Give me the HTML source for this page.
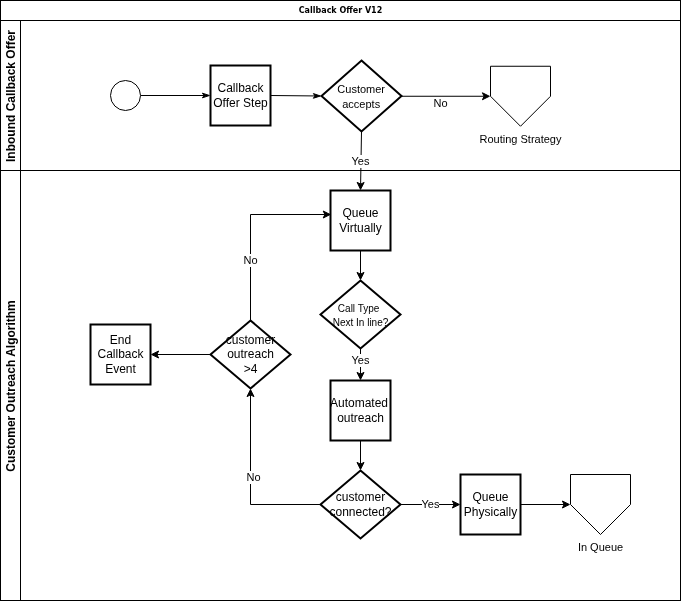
<!DOCTYPE html>
<html><head><meta charset="utf-8"><title>Callback Offer V12</title>
<style>
html,body{margin:0;padding:0;background:#fff;}
#d{position:relative;width:681px;height:601px;overflow:hidden;font-family:"Liberation Sans",Helvetica,Arial,sans-serif;color:#000;}
svg{position:absolute;left:0;top:0;}
#lb{position:absolute;left:0;top:0;width:681px;height:601px;will-change:transform;}
.l{position:absolute;width:0;height:0;display:flex;align-items:center;justify-content:center;}
.i{font-size:12px;line-height:1.2;text-align:center;white-space:nowrap;flex:none;}
.t{position:absolute;font-weight:bold;white-space:nowrap;}
.v{position:absolute;width:0;height:0;display:flex;align-items:center;justify-content:center;transform:rotate(-90deg);}
.v .i{font-weight:bold;}
</style></head><body>
<div id="d">
<svg width="681" height="601" viewBox="0 0 681 601"><g transform="translate(0.5,0.5)">
<rect x="0" y="0" width="680" height="600" fill="#fff" stroke="#000"/>
<path d="M 0 20 L 680 20" fill="none" stroke="#000"/>
<path d="M 0 170 L 680 170" fill="none" stroke="#000"/>
<path d="M 20 20 L 20 600" fill="none" stroke="#000"/>
<path d="M 140.00 95.00 L 203.63 95.00" fill="none" stroke="#000" stroke-miterlimit="10"/>
<path d="M 208.88 95.00 L 201.88 97.33 L 203.63 95.00 L 201.88 92.67 Z" fill="#000" stroke="#000" stroke-miterlimit="10"/>
<path d="M 270.00 95.00 L 314.63 95.44" fill="none" stroke="#000" stroke-miterlimit="10"/>
<path d="M 319.88 95.49 L 312.86 97.75 L 314.63 95.44 L 312.90 93.09 Z" fill="#000" stroke="#000" stroke-miterlimit="10"/>
<path d="M 401.00 95.75 L 483.63 95.75" fill="none" stroke="#000" stroke-miterlimit="10"/>
<path d="M 488.88 95.75 L 481.88 99.25 L 483.63 95.75 L 481.88 92.25 Z" fill="#000" stroke="#000" stroke-miterlimit="10"/>
<path d="M 361.00 131.00 L 360.11 183.63" fill="none" stroke="#000" stroke-miterlimit="10"/>
<path d="M 360.02 188.88 L 356.64 181.82 L 360.11 183.63 L 363.64 181.94 Z" fill="#000" stroke="#000" stroke-miterlimit="10"/>
<path d="M 360.00 250.00 L 360.00 273.63" fill="none" stroke="#000" stroke-miterlimit="10"/>
<path d="M 360.00 278.88 L 356.50 271.88 L 360.00 273.63 L 363.50 271.88 Z" fill="#000" stroke="#000" stroke-miterlimit="10"/>
<path d="M 360.00 348.00 L 360.00 373.63" fill="none" stroke="#000" stroke-miterlimit="10"/>
<path d="M 360.00 378.88 L 356.50 371.88 L 360.00 373.63 L 363.50 371.88 Z" fill="#000" stroke="#000" stroke-miterlimit="10"/>
<path d="M 360.00 440.00 L 360.00 463.63" fill="none" stroke="#000" stroke-miterlimit="10"/>
<path d="M 360.00 468.88 L 356.50 461.88 L 360.00 463.63 L 363.50 461.88 Z" fill="#000" stroke="#000" stroke-miterlimit="10"/>
<path d="M 400.00 504.00 L 453.63 504.00" fill="none" stroke="#000" stroke-miterlimit="10"/>
<path d="M 458.88 504.00 L 451.88 507.50 L 453.63 504.00 L 451.88 500.50 Z" fill="#000" stroke="#000" stroke-miterlimit="10"/>
<path d="M 520.00 504.00 L 563.63 504.00" fill="none" stroke="#000" stroke-miterlimit="10"/>
<path d="M 568.88 504.00 L 561.88 507.50 L 563.63 504.00 L 561.88 500.50 Z" fill="#000" stroke="#000" stroke-miterlimit="10"/>
<path d="M 320.00 504.00 L 250.00 504.00 L 250.00 394.37" fill="none" stroke="#000" stroke-miterlimit="10"/>
<path d="M 250.00 389.12 L 253.50 396.12 L 250.00 394.37 L 246.50 396.12 Z" fill="#000" stroke="#000" stroke-miterlimit="10"/>
<path d="M 250.00 320.00 L 250.00 214.00 L 324.43 214.00" fill="none" stroke="#000" stroke-miterlimit="10"/>
<path d="M 329.68 214.00 L 322.68 217.50 L 324.43 214.00 L 322.68 210.50 Z" fill="#000" stroke="#000" stroke-miterlimit="10"/>
<path d="M 210.00 354.00 L 156.37 354.00" fill="none" stroke="#000" stroke-miterlimit="10"/>
<path d="M 151.12 354.00 L 158.12 350.50 L 156.37 354.00 L 158.12 357.50 Z" fill="#000" stroke="#000" stroke-miterlimit="10"/>
<ellipse cx="125" cy="95" rx="15" ry="15" fill="#fff" stroke="#000"/>
<rect x="210" y="65" width="60" height="60" fill="#fff" stroke="#000" stroke-width="2"/>
<path d="M 361 60 L 401 95.5 L 361 131 L 321 95.5 Z" fill="#fff" stroke="#000" stroke-width="2" stroke-miterlimit="10"/>
<path d="M 490 65.75 L 550 65.75 L 550 95.75 L 520 125.75 L 490 95.75 Z" fill="#fff" stroke="#000" stroke-miterlimit="10"/>
<rect x="330" y="190" width="60" height="60" fill="#fff" stroke="#000" stroke-width="2"/>
<path d="M 360 280 L 400 314 L 360 348 L 320 314 Z" fill="#fff" stroke="#000" stroke-width="2" stroke-miterlimit="10"/>
<rect x="330" y="380" width="60" height="60" fill="#fff" stroke="#000" stroke-width="2"/>
<path d="M 360 470 L 400 504 L 360 538 L 320 504 Z" fill="#fff" stroke="#000" stroke-width="2" stroke-miterlimit="10"/>
<rect x="460" y="474" width="60" height="60" fill="#fff" stroke="#000" stroke-width="2"/>
<path d="M 570 474 L 630 474 L 630 504 L 600 534 L 570 504 Z" fill="#fff" stroke="#000" stroke-miterlimit="10"/>
<path d="M 250 320 L 290 354 L 250 388 L 210 354 Z" fill="#fff" stroke="#000" stroke-width="2" stroke-miterlimit="10"/>
<rect x="90" y="324" width="60" height="60" fill="#fff" stroke="#000" stroke-width="2"/>
</g></svg>
<div id="lb">
<div class="l" style="left:340.5px;top:10.5px"><div class="i" id="title" style="font-family:'DejaVu Sans',Verdana,sans-serif;font-weight:bold;font-size:8px;">Callback Offer V12</div></div>
<div class="v" style="left:10.5px;top:95.5px"><div class="i">Inbound Callback Offer</div></div>
<div class="v" style="left:10.5px;top:385.5px"><div class="i">Customer Outreach Algorithm</div></div>
<div class="l " style="left:240.5px;top:95.5px;"><div class="i" style="width:58px;white-space:normal;">Callback Offer Step</div></div>
<div class="l " style="left:361.2px;top:96.5px;"><div class="i" style="width:78px;white-space:normal;"><span style="font-size:11px">Customer accepts</span></div></div>
<div class="l " style="left:520.5px;top:139.5px;"><div class="i" style=""><span style="font-size:11px">Routing Strategy</span></div></div>
<div class="l " style="left:360.5px;top:220.5px;"><div class="i" style="width:58px;white-space:normal;">Queue Virtually</div></div>
<div class="l " style="left:360.5px;top:315px;"><div class="i" style=""><span style="font-size:10px"><span style="position:relative;left:-1.9px">Call Type</span><br>Next In line?</span></div></div>
<div class="l " style="left:360.5px;top:410.5px;"><div class="i" style="width:58px;white-space:normal;"><span style="position:relative;left:-1.5px">Automated</span> outreach</div></div>
<div class="l " style="left:360.5px;top:504.5px;"><div class="i" style="width:78px;white-space:normal;">customer connected?</div></div>
<div class="l " style="left:490.5px;top:504.5px;"><div class="i" style="width:58px;white-space:normal;">Queue Physically</div></div>
<div class="l " style="left:600.5px;top:547.5px;"><div class="i" style=""><span style="font-size:11px">In Queue</span></div></div>
<div class="l " style="left:250.5px;top:354.5px;"><div class="i" style="">customer<br>outreach<br>&gt;4</div></div>
<div class="l " style="left:120.5px;top:354.5px;"><div class="i" style="width:58px;white-space:normal;">End Callback Event</div></div>
<div class="l " style="left:440.5px;top:103.5px;"><div class="i" style="background:#fff;font-size:11px;"><span>No</span></div></div>
<div class="l " style="left:360.5px;top:161.5px;"><div class="i" style="background:#fff;font-size:11px;"><span>Yes</span></div></div>
<div class="l " style="left:360.5px;top:360.5px;"><div class="i" style="background:#fff;font-size:11px;"><span>Yes</span></div></div>
<div class="l " style="left:430.5px;top:504.5px;"><div class="i" style="background:#fff;font-size:11px;"><span>Yes</span></div></div>
<div class="l " style="left:250.5px;top:260.5px;"><div class="i" style="background:#fff;font-size:11px;"><span>No</span></div></div>
<div class="l " style="left:253.5px;top:477.5px;"><div class="i" style="background:#fff;font-size:11px;"><span>No</span></div></div>
</div>
</div>
</body></html>
